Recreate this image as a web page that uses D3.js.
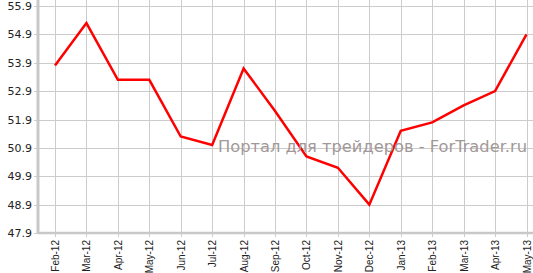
<!DOCTYPE html>
<html>
<head>
<meta charset="utf-8">
<script src="https://cdn.jsdelivr.net/npm/d3@7"></script>
<style>
  body { margin: 0; background: #fff; }
  svg { display: block; }
  .ytick text { font-family: "DejaVu Sans", Verdana, sans-serif; font-size: 11px; fill: #222; }
  .xtick text { font-family: "Liberation Sans", Arial, sans-serif; font-size: 10px; fill: #222; }
</style>
</head>
<body>
<svg class="chart" width="533" height="273"></svg>
<script>
// ---- Chart data ----
const months = ["Feb-12", "Mar-12", "Apr-12", "May-12", "Jun-12", "Jul-12", "Aug-12", "Sep-12",
                "Oct-12", "Nov-12", "Dec-12", "Jan-13", "Feb-13", "Mar-13", "Apr-13", "May-13"];
const values = [53.8, 55.3, 53.3, 53.3, 51.3, 51.0, 53.7, 52.2,
                50.6, 50.2, 48.9, 51.5, 51.8, 52.4, 52.9, 54.9];
const yTicks = [47.9, 48.9, 49.9, 50.9, 51.9, 52.9, 53.9, 54.9, 55.9];
const watermark = "Портал для трейдеров - ForTrader.ru";

// ---- Layout ----
const W = 533, H = 273;
const axisX = 38, axisY = 233;

const svg = d3.select("svg.chart");

const x = d3.scalePoint()
    .domain(months)
    .range([55, 526.5]);
const y = d3.scaleLinear()
    .domain([47.9, 55.9])
    .range([axisY, 6]);

// horizontal gridlines + y labels
const yg = svg.append("g").classed("ytick", true)
    .selectAll("g")
    .data(yTicks)
    .join("g")
    .attr("transform", d => `translate(0, ${Math.round(y(d)) + 0.5})`);
yg.append("line")
    .attr("x1", axisX - 4).attr("x2", W)
    .attr("stroke", "#cccccc");
yg.append("text")
    .attr("x", 32)
    .attr("dy", "0.35em")
    .attr("text-anchor", "end")
    .text(d => d.toFixed(1));

// vertical gridlines + rotated month labels
const xg = svg.append("g").classed("xtick", true)
    .selectAll("g")
    .data(months)
    .join("g")
    .attr("transform", d => `translate(${Math.round(x(d)) + 0.5}, 0)`);
xg.append("line")
    .attr("y1", 0).attr("y2", axisY + 4)
    .attr("stroke", "#cccccc");
xg.append("text")
    .attr("transform", `translate(0, 240) rotate(-90)`)
    .attr("dy", "0.35em")
    .attr("text-anchor", "end")
    .text(d => d);

// axis lines
svg.append("line")
    .attr("x1", axisX).attr("x2", axisX)
    .attr("y1", 0).attr("y2", axisY + 1)
    .attr("stroke", "#c8c8c8")
    .attr("stroke-width", 3);
svg.append("line")
    .attr("x1", axisX).attr("x2", W)
    .attr("y1", axisY).attr("y2", axisY)
    .attr("stroke", "#c8c8c8")
    .attr("stroke-width", 2.5);

// the series
const line = d3.line()
    .x((d, i) => x(months[i]))
    .y(d => y(d));
svg.append("path")
    .datum(values)
    .attr("d", line)
    .attr("fill", "none")
    .attr("stroke", "#ff0000")
    .attr("stroke-width", 2.5)
    .attr("stroke-linejoin", "miter");

// watermark
svg.append("text")
    .attr("x", 218)
    .attr("y", 152)
    .attr("font-family", "DejaVu Sans, Verdana, sans-serif")
    .attr("font-size", 16)
    .attr("textLength", 309)
    .attr("lengthAdjust", "spacingAndGlyphs")
    .attr("fill", "#a39898")
    .text(watermark);
</script>
</body>
</html>
